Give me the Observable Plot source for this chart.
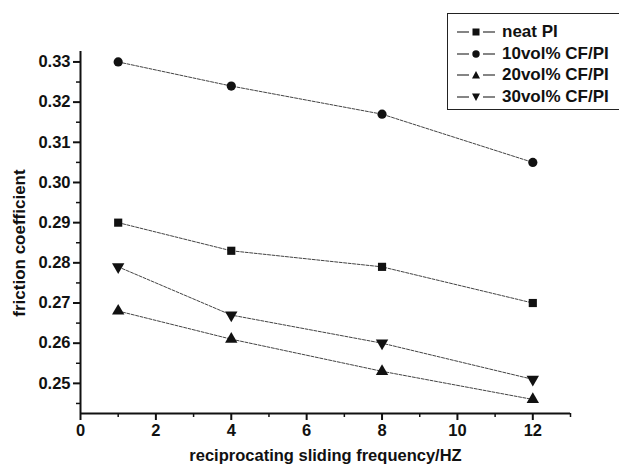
<!DOCTYPE html>
<html>
<head>
<meta charset="utf-8">
<script src="https://cdn.jsdelivr.net/npm/d3@7"></script>
<script src="https://cdn.jsdelivr.net/npm/@observablehq/plot@0.6"></script>
<style>
  html, body { margin: 0; padding: 0; background: #fff; }
  #wrap { position: relative; width: 619px; height: 469px; font-family: "Liberation Sans", Arial, sans-serif; }
  #legend { position: absolute; left: 447px; top: 13px; width: 172px; height: 97px; border: 1.5px solid #222; border-right: none; box-sizing: border-box; background: #fff; }
  .row { position: absolute; left: 0; height: 20px; display: flex; align-items: center; font-weight: bold; font-size: 17px; color: #111; }
  .row svg { margin-left: 9px; margin-right: 5px; }
  #ylabel { position: absolute; left: 20px; top: 243px; transform: translate(-50%, -50%) rotate(-90deg); white-space: nowrap; font-weight: bold; font-size: 17px; color: #111; }
</style>
</head>
<body>
<div id="wrap"><div id="chart"></div><div id="legend"></div><div id="ylabel"></div></div>
<script>
const frequency = [1, 4, 8, 12];
const seriesNames = ["neat PI", "10vol% CF/PI", "20vol% CF/PI", "30vol% CF/PI"];
const neatPI = [0.290, 0.283, 0.279, 0.270];
const cf10 = [0.330, 0.324, 0.317, 0.305];
const cf20 = [0.268, 0.261, 0.253, 0.246];
const cf30 = [0.279, 0.267, 0.260, 0.251];
const yTicks = [0.25, 0.26, 0.27, 0.28, 0.29, 0.30, 0.31, 0.32, 0.33];
const yMinorTicks = [0.245, 0.255, 0.265, 0.275, 0.285, 0.295, 0.305, 0.315, 0.325];
const xTicks = [0, 2, 4, 6, 8, 10, 12];
const xMinorTicks = [1, 3, 5, 7, 9, 11, 13];
const xLabel = "reciprocating sliding frequency/HZ";
const yLabel = "friction coefficient";

const triangleDown = {
  draw(context, size) {
    const y = -Math.sqrt(size / (3 * Math.sqrt(3)));
    context.moveTo(0, -y * 2);
    context.lineTo(-Math.sqrt(3) * y, y);
    context.lineTo(Math.sqrt(3) * y, y);
    context.closePath();
  }
};
const symbols = ["square", "circle", "triangle", triangleDown];
const allValues = [neatPI, cf10, cf20, cf30];
const data = [];
allValues.forEach((vals, si) => vals.forEach((v, i) => data.push({series: seriesNames[si], f: frequency[i], mu: v})));

const yMin = 0.2425, yMax = 0.3326;
const font = `"Liberation Sans", Arial, sans-serif`;

const chart = Plot.plot({
  width: 619,
  height: 469,
  marginLeft: 80,
  marginRight: 49,
  marginTop: 51,
  marginBottom: 56,
  style: {fontFamily: font, fontWeight: "bold", fontSize: "17px", color: "#111", background: "#fff"},
  x: {domain: [0, 13]},
  y: {domain: [yMin, yMax]},
  symbol: {domain: seriesNames, range: symbols},
  marks: [
    Plot.axisY({ticks: yTicks, tickFormat: d3.format(".2f"), tickSize: 7, tickPadding: 3, strokeWidth: 2, stroke: "#111", fontSize: 16.5, label: null}),
    Plot.axisY({ticks: yMinorTicks, tickSize: 4, strokeWidth: 1.5, stroke: "#111", text: null, label: null}),
    Plot.axisX({ticks: xTicks, tickSize: 7, tickPadding: 4, strokeWidth: 2, stroke: "#111", fontSize: 16.5,
      label: xLabel, labelAnchor: "center", labelArrow: "none", labelOffset: 47}),
    Plot.axisX({ticks: xMinorTicks, tickSize: 4, strokeWidth: 1.5, stroke: "#111", text: null, label: null}),
    Plot.ruleX([0], {y1: yMin, y2: yMax, strokeWidth: 2, stroke: "#111"}),
    Plot.ruleY([yMin], {x1: 0, x2: 13, strokeWidth: 2, stroke: "#111"}),
    Plot.line(data, {x: "f", y: "mu", z: "series", stroke: "#444", strokeWidth: 1, strokeDasharray: "3,1.5"}),
    Plot.dot(data, {x: "f", y: "mu", symbol: "series", fill: "#111", stroke: "none", r: 4.6})
  ]
});
document.getElementById("chart").appendChild(chart);
document.getElementById("ylabel").textContent = yLabel;

const legend = document.getElementById("legend");
const glyphs = [
  '<rect x="15.5" y="5.5" width="7" height="7" fill="#111"/>',
  '<circle cx="19" cy="9" r="3.7" fill="#111"/>',
  '<path d="M19,5 L23,12.5 L15,12.5 Z" fill="#111"/>',
  '<path d="M19,13 L23,5.5 L15,5.5 Z" fill="#111"/>'
];
seriesNames.forEach((name, i) => {
  const row = document.createElement("div");
  row.className = "row";
  row.style.top = (8 + i * 21.7) + "px";
  row.innerHTML = `<svg width="40" height="18"><line x1="0" y1="9" x2="12" y2="9" stroke="#333" stroke-width="1.2"/><line x1="26" y1="9" x2="38" y2="9" stroke="#333" stroke-width="1.2"/>${glyphs[i]}</svg><span>${name}</span>`;
  legend.appendChild(row);
});
</script>
</body>
</html>
